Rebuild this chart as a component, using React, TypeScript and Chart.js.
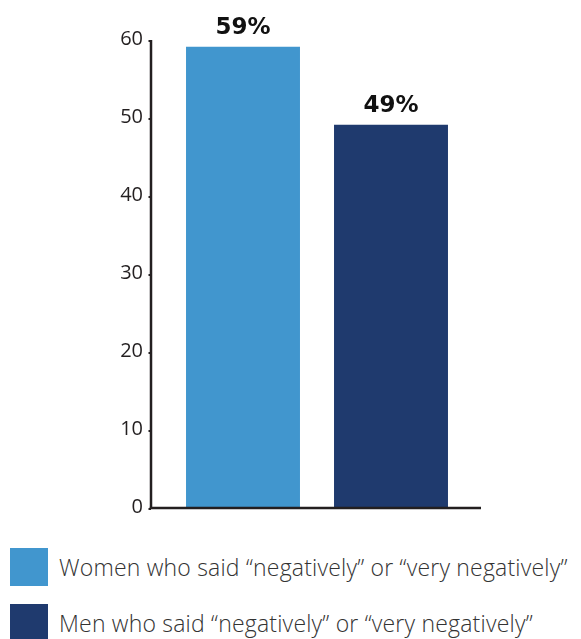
import React, { useEffect, useRef } from "react";
import { Chart, registerables } from "chart.js";

Chart.register(...registerables);

const categories = [
  "Women who said \u201cnegatively\u201d or \u201cvery negatively\u201d",
  "Men who said \u201cnegatively\u201d or \u201cvery negatively\u201d",
];
const values = [59, 49];
const colors = ["#4196CE", "#1F3A6E"];
const yTicks = [0, 10, 20, 30, 40, 50, 60];

const AXIS_COLOR = "#231f20";

const axisPlugin = {
  id: "customAxes",
  afterDraw(chart: any) {
    const { ctx, chartArea, scales } = chart;
    const y = scales.y;
    const ax = chartArea.left - 18;
    ctx.save();
    ctx.strokeStyle = AXIS_COLOR;
    ctx.lineWidth = 2.5;
    ctx.beginPath();
    ctx.moveTo(ax, chartArea.top + 1);
    ctx.lineTo(ax, chartArea.bottom + 2);
    ctx.stroke();
    ctx.beginPath();
    ctx.moveTo(ax - 1.25, chartArea.bottom + 1);
    ctx.lineTo(chartArea.right + 16, chartArea.bottom + 1);
    ctx.stroke();
    ctx.lineWidth = 2;
    yTicks.forEach((t) => {
      const py = y.getPixelForValue(t);
      ctx.beginPath();
      ctx.moveTo(ax - 2.5, py + 2);
      ctx.lineTo(ax, py + 2);
      ctx.stroke();
    });
    ctx.restore();
  },
};

const labelPlugin = {
  id: "valueLabels",
  afterDatasetsDraw(chart: any) {
    const { ctx } = chart;
    const meta = chart.getDatasetMeta(0);
    ctx.save();
    ctx.font = "bold 23px 'DejaVu Sans'";
    ctx.fillStyle = "#111111";
    ctx.textAlign = "center";
    ctx.textBaseline = "alphabetic";
    meta.data.forEach((bar: any, i: number) => {
      ctx.fillText(`${values[i]}%`, bar.x, bar.y - 13);
    });
    ctx.restore();
  },
};

export default function App() {
  const ref = useRef<HTMLCanvasElement>(null);

  useEffect(() => {
    if (!ref.current) return;
    const chart = new Chart(ref.current, {
      type: "bar",
      data: {
        labels: categories,
        datasets: [
          {
            data: values,
            backgroundColor: colors,
            borderWidth: 0,
            barPercentage: 0.77,
            categoryPercentage: 1,
          },
        ],
      },
      options: {
        animation: false,
        responsive: false,
        maintainAspectRatio: false,
        layout: { padding: { left: 111, right: 108, top: 31, bottom: 21 } },
        plugins: {
          legend: { display: false },
          tooltip: { enabled: false },
        },
        scales: {
          x: { display: false },
          y: {
            min: 0,
            max: 60,
            afterFit(scale: any) {
              scale.width = 50;
              scale.paddingTop = 0;
              scale.paddingBottom = 0;
            },
            afterBuildTicks(scale: any) {
              scale.ticks = yTicks.map((v) => ({ value: v }));
            },
            grid: { display: false, drawTicks: false },
            border: { display: false },
            ticks: {
              padding: 26,
              color: AXIS_COLOR,
              font: { family: "'Open Sans'", size: 20 },
            },
          },
        },
      },
      plugins: [axisPlugin, labelPlugin],
    });
    return () => chart.destroy();
  }, []);

  return (
    <div style={{ width: 565 }}>
      <canvas ref={ref} width={565} height={520} style={{ display: "block" }} />
      <div style={{ marginTop: 20 }}>
        {categories.map((c, i) => (
          <div
            key={c}
            style={{
              display: "flex",
              alignItems: "center",
              height: 38,
              marginBottom: 18,
              marginLeft: 2,
            }}
          >
            <div style={{ width: 38, height: 38, background: colors[i], flex: "none" }} />
            <span
              style={{
                marginLeft: 11,
                fontFamily: "'Open Sans', sans-serif",
                fontWeight: 300,
                fontSize: 23,
                letterSpacing: 0.2,
                color: "#333333",
                whiteSpace: "nowrap",
              }}
            >
              {c}
            </span>
          </div>
        ))}
      </div>
    </div>
  );
}
